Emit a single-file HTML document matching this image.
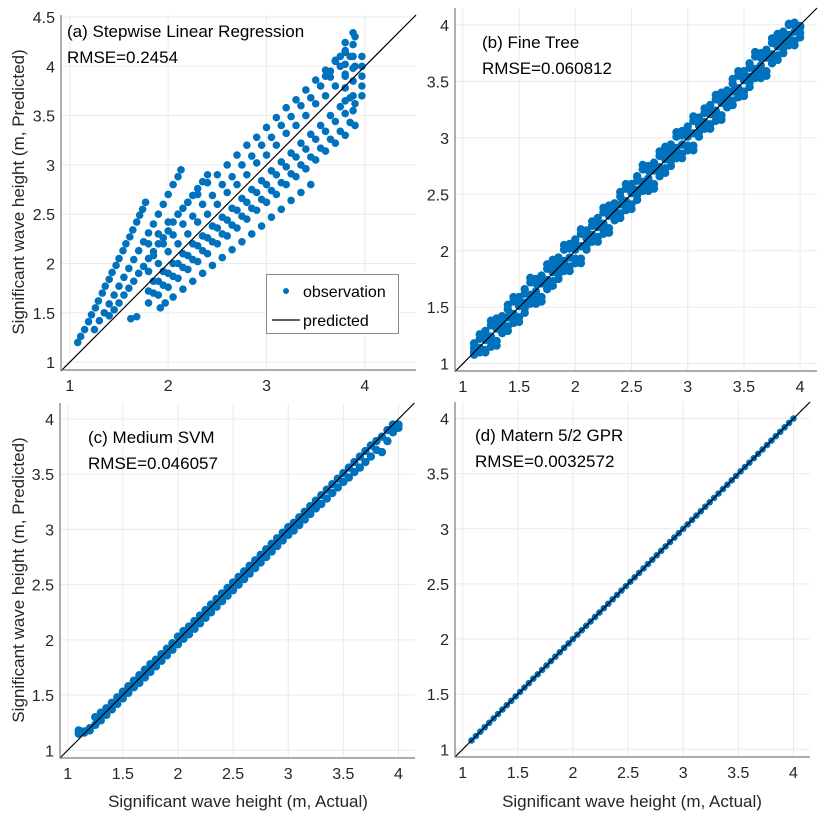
<!DOCTYPE html>
<html><head><meta charset="utf-8"><style>
body{margin:0;background:#fff;}
svg{display:block;font-family:"Liberation Sans",Arial,sans-serif;}
</style></head><body>
<svg id="fig" width="825" height="817" viewBox="0 0 825 817"></svg>
<script>
// ---------- data ----------
const ticksA = [1,2,3,4];
const ticksAy = [1,1.5,2,2.5,3,3.5,4,4.5];
const ticksB = [1,1.5,2,2.5,3,3.5,4];

// Panel (a) stripes / bands (actual, predicted)
const aS1x = [1.08,1.15,1.22,1.29,1.36,1.43,1.5,1.57,1.64,1.71,1.77,1.11,1.19,1.26,1.33,1.4,1.47,1.54,1.61,1.68,1.74];
const aS1y = [1.2,1.33,1.48,1.62,1.77,1.91,2.05,2.2,2.34,2.49,2.62,1.26,1.41,1.55,1.7,1.84,1.98,2.13,2.27,2.42,2.55];
const aS2x = [1.25,1.3,1.35,1.4,1.45,1.5,1.55,1.6,1.65,1.7,1.75,1.8,1.85,1.9,1.95,2.0,2.05,2.1,2.13];
const aS2y = [1.33,1.42,1.5,1.59,1.68,1.77,1.86,1.95,2.04,2.13,2.22,2.31,2.4,2.5,2.6,2.7,2.8,2.88,2.95];
const aS3x = [1.4,1.45,1.5,1.55,1.6,1.65,1.7,1.75,1.8,1.85,1.9,1.95,2.0,2.05,2.1,2.15,2.2,2.25,2.3,2.35,2.4];
const aS3y = [1.47,1.53,1.6,1.68,1.75,1.82,1.9,1.97,2.05,2.12,2.2,2.26,2.33,2.42,2.5,2.56,2.62,2.69,2.76,2.83,2.9];
const aBx = [1.8,1.9,2.0,2.1,2.2,2.3,2.4,2.5,2.6,2.7,2.8,2.9,3.0,3.1,3.2,3.3,3.4,3.5,3.6,3.7,3.8,3.9];
const aUp = [2.2,2.3,2.42,2.5,2.62,2.7,2.82,2.9,3.0,3.1,3.2,3.28,3.38,3.48,3.58,3.66,3.76,3.86,3.96,4.06,4.16,4.3];
const aMu = [1.92,2.0,2.12,2.2,2.3,2.42,2.5,2.6,2.72,2.8,2.9,3.02,3.1,3.2,3.32,3.4,3.5,3.62,3.7,3.8,3.92,4.0];
const aMd = [1.72,1.82,1.9,2.0,2.08,2.18,2.26,2.36,2.44,2.54,2.62,2.72,2.8,2.9,2.98,3.08,3.16,3.26,3.34,3.44,3.52,3.62];
const aMl = [1.6,1.68,1.76,1.85,1.94,2.02,2.1,2.2,2.28,2.36,2.45,2.54,2.62,2.7,2.8,2.88,2.96,3.05,3.14,3.22,3.3,3.4];
const aBx2 = [1.85,1.95,2.05,2.15,2.25,2.35,2.45,2.55,2.65,2.75,2.85,2.95,3.05,3.15,3.25,3.35,3.45,3.55,3.65,3.75,3.85];
const aUM = [2.08,2.2,2.29,2.4,2.48,2.6,2.69,2.8,2.88,3.0,3.09,3.2,3.28,3.4,3.49,3.6,3.68,3.8,3.89,4.0,4.1];
const aMM = [1.82,1.92,2.0,2.1,2.2,2.28,2.38,2.47,2.56,2.66,2.75,2.84,2.94,3.03,3.12,3.22,3.31,3.4,3.5,3.59,3.68];
const aML = [1.7,1.78,1.87,1.96,2.04,2.13,2.22,2.3,2.39,2.48,2.56,2.65,2.74,2.82,2.91,3.0,3.08,3.17,3.26,3.34,3.43];
const aLx = [1.62,1.68,1.92,1.97,2.05,2.15,2.25,2.35,2.45,2.55,2.65,2.75,2.85,2.95,3.05,3.15,3.25,3.35,3.45];
const aLy = [1.44,1.46,1.55,1.6,1.66,1.74,1.82,1.9,1.98,2.06,2.14,2.22,2.3,2.38,2.47,2.55,2.64,2.72,2.8];
const aRx = [3.8,3.8,3.8,3.8,3.8,3.8,3.88,3.88,3.88,3.88,3.88,3.88,3.88,3.97,3.97,3.97,3.97,3.97,3.75,3.7,3.65,3.6,3.55];
const aRy = [3.65,3.78,3.9,4.02,4.14,4.24,3.55,3.7,3.85,3.98,4.1,4.22,4.34,3.7,3.8,3.9,4.0,4.1,4.1,4.05,3.95,3.9,3.8];

// Panel (b) Fine Tree
const bX = [1.10,1.15,1.20,1.25,1.30,1.35,1.40,1.45,1.50,1.55,1.60,1.65,1.70,1.75,1.80,1.85,1.90,1.95,2.00,2.05,2.10,2.15,2.20,2.25,2.30,2.35,2.40,2.45,2.50,2.55,2.60,2.65,2.70,2.75,2.80,2.85,2.90,2.95,3.00,3.05,3.10,3.15,3.20,3.25,3.30,3.35,3.40,3.45,3.50,3.55,3.60,3.65,3.70,3.75,3.80,3.85,3.90,3.95,4.00];
const bHi = [1.18,1.26,1.29,1.38,1.40,1.42,1.52,1.59,1.59,1.66,1.76,1.75,1.78,1.88,1.92,1.94,2.05,2.06,2.10,2.19,2.18,2.26,2.29,2.38,2.40,2.42,2.52,2.59,2.59,2.66,2.76,2.75,2.78,2.88,2.92,2.94,3.05,3.06,3.10,3.19,3.18,3.26,3.29,3.38,3.40,3.42,3.52,3.59,3.59,3.66,3.76,3.75,3.78,3.88,3.92,3.94,4.0,4.0,3.99];
const bUp = [1.14,1.22,1.25,1.34,1.36,1.38,1.48,1.55,1.55,1.62,1.72,1.71,1.74,1.84,1.88,1.90,2.01,2.02,2.06,2.15,2.14,2.22,2.25,2.34,2.36,2.38,2.48,2.55,2.55,2.62,2.72,2.71,2.74,2.84,2.88,2.90,3.01,3.02,3.06,3.15,3.14,3.22,3.25,3.34,3.36,3.38,3.48,3.55,3.55,3.62,3.72,3.71,3.74,3.84,3.88,3.90,4.01,4.02,3.99];
const bMid = [1.11,1.14,1.21,1.24,1.31,1.34,1.41,1.44,1.51,1.54,1.61,1.64,1.71,1.74,1.81,1.84,1.91,1.94,2.01,2.04,2.11,2.14,2.21,2.24,2.31,2.34,2.41,2.44,2.51,2.54,2.61,2.64,2.71,2.74,2.81,2.84,2.91,2.94,3.01,3.04,3.11,3.14,3.21,3.24,3.31,3.34,3.41,3.44,3.51,3.54,3.61,3.64,3.71,3.74,3.81,3.84,3.91,3.94,3.98];
const bLo = [1.10,1.12,1.12,1.19,1.20,1.31,1.33,1.40,1.41,1.49,1.57,1.57,1.59,1.70,1.73,1.79,1.86,1.86,1.93,1.93,2.05,2.12,2.12,2.19,2.20,2.31,2.33,2.40,2.41,2.49,2.57,2.57,2.59,2.70,2.73,2.79,2.86,2.86,2.93,2.93,3.05,3.12,3.12,3.19,3.20,3.31,3.33,3.40,3.41,3.49,3.57,3.57,3.59,3.70,3.73,3.79,3.86,3.86,3.93];
const bLo2 = [1.08,1.10,1.10,1.15,1.16,1.27,1.29,1.36,1.37,1.45,1.53,1.53,1.55,1.66,1.69,1.75,1.82,1.82,1.89,1.89,2.01,2.08,2.08,2.15,2.16,2.27,2.29,2.36,2.37,2.45,2.53,2.53,2.55,2.66,2.69,2.75,2.82,2.82,2.89,2.89,3.01,3.08,3.08,3.15,3.16,3.27,3.29,3.36,3.37,3.45,3.53,3.53,3.55,3.66,3.69,3.75,3.82,3.82,3.89];

// Panel (c) Medium SVM
const cUp = [1.18,1.17,1.20,1.30,1.34,1.38,1.43,1.48,1.53,1.58,1.63,1.68,1.73,1.78,1.82,1.87,1.92,1.97,2.03,2.08,2.12,2.17,2.22,2.27,2.32,2.37,2.42,2.47,2.52,2.57,2.62,2.67,2.72,2.77,2.82,2.87,2.92,2.97,3.02,3.06,3.11,3.16,3.21,3.26,3.31,3.36,3.41,3.46,3.51,3.56,3.61,3.66,3.71,3.76,3.80,3.84,3.90,3.95,3.95];
const cLo = [1.15,1.16,1.18,1.23,1.27,1.32,1.37,1.42,1.47,1.52,1.57,1.61,1.66,1.71,1.76,1.81,1.86,1.91,1.96,2.01,2.05,2.10,2.15,2.20,2.25,2.30,2.35,2.40,2.45,2.50,2.55,2.60,2.65,2.70,2.75,2.80,2.85,2.90,2.95,2.99,3.04,3.09,3.14,3.19,3.23,3.28,3.33,3.38,3.43,3.47,3.52,3.56,3.61,3.66,3.72,3.70,3.80,3.88,3.92];

// Panel (d) Matern GPR
const dX = [1.08,1.12,1.16,1.2,1.24,1.28,1.32,1.36,1.4,1.44,1.48,1.52,1.56,1.6,1.64,1.68,1.72,1.76,1.8,1.84,1.88,1.92,1.96,2.0,2.04,2.08,2.12,2.16,2.2,2.24,2.28,2.32,2.36,2.4,2.44,2.48,2.52,2.56,2.6,2.64,2.68,2.72,2.76,2.8,2.84,2.88,2.92,2.96,3.0,3.04,3.08,3.12,3.16,3.2,3.24,3.28,3.32,3.36,3.4,3.44,3.48,3.52,3.56,3.6,3.64,3.68,3.72,3.76,3.8,3.84,3.88,3.92,3.96,4.0];
const dY = [1.08,1.12,1.16,1.2,1.24,1.28,1.32,1.36,1.4,1.44,1.48,1.52,1.56,1.6,1.64,1.68,1.72,1.76,1.8,1.84,1.88,1.92,1.96,2.0,2.04,2.08,2.12,2.16,2.2,2.24,2.28,2.32,2.36,2.4,2.44,2.48,2.52,2.56,2.6,2.64,2.68,2.72,2.76,2.8,2.84,2.88,2.92,2.96,3.0,3.04,3.08,3.12,3.16,3.2,3.24,3.28,3.32,3.36,3.4,3.44,3.48,3.52,3.56,3.6,3.64,3.68,3.72,3.76,3.8,3.84,3.88,3.92,3.96,4.0];

// ---------- drawing ----------
const NS = "http://www.w3.org/2000/svg";
const svg = document.getElementById('fig');
function mk(tag, attrs, parent){
  const e = document.createElementNS(NS, tag);
  for (const k in attrs) e.setAttribute(k, attrs[k]);
  (parent||svg).appendChild(e);
  return e;
}
function panel(cfg){
  const g = mk('g', {});
  
  
  const sx = v => cfg.L + (v - cfg.x0) / (cfg.x1 - cfg.x0) * (cfg.R - cfg.L);
  const sy = v => cfg.B - (v - cfg.y0) / (cfg.y1 - cfg.y0) * (cfg.B - cfg.T);
  cfg.xt.forEach(t => {
    const l = mk('line', {x1:sx(t), x2:sx(t), y1:cfg.T, y2:cfg.B, stroke:'#ebebeb', 'stroke-width':1}, g);
    
    
    const tx = mk('text', {x:sx(t), y:cfg.B+21, 'text-anchor':'middle', 'font-size':16, fill:'#262626'}, g);
    tx.textContent = t;
    
    
  });
  cfg.yt.forEach(t => {
    const l = mk('line', {x1:cfg.L, x2:cfg.R, y1:sy(t), y2:sy(t), stroke:'#ebebeb', 'stroke-width':1}, g);
    
    
    const tx = mk('text', {x:cfg.L-6, y:sy(t)+6, 'text-anchor':'end', 'font-size':16, fill:'#262626'}, g);
    tx.textContent = t;
    
    
  });
  cfg.series.forEach(s => {
    for (let i = 0; i < s[0].length; i++) {
      const c = mk('circle', {cx:sx(s[0][i]), cy:sy(s[1][i]), r:cfg.r, fill:'#0072BD'}, g);
      
      
    }
  });
  const hi = Math.min(cfg.x1, cfg.y1);
  const d = mk('line', {x1:sx(cfg.x0), y1:sy(cfg.x0), x2:sx(hi), y2:sy(hi), stroke:'#000', 'stroke-width':1.2}, g);
  
  
  const ax = mk('path', {d:`M${cfg.L},${cfg.T} V${cfg.B} H${cfg.R}`, fill:'none', stroke:'#7a7a7a', 'stroke-width':1.2}, g);
  
  
  cfg.titles.forEach((t, i) => {
    const tx = mk('text', {x:cfg.tx, y:cfg.ty + i*26, 'font-size':17, fill:'#000'}, g);
    tx.textContent = t;
    
    
  });
  return g;
}
panel({name:'panel-a-stepwise', L:61, R:416, T:15, B:370, x0:0.91, x1:4.52, y0:0.92, y1:4.52,
  xt:ticksA, yt:ticksAy, r:3.8,
  series:[[aS1x,aS1y],[aS2x,aS2y],[aS3x,aS3y],[aBx,aUp],[aBx,aMu],[aBx,aMd],[aBx,aMl],[aBx2,aUM],[aBx2,aMM],[aBx2,aML],[aLx,aLy],[aRx,aRy]],
  titles:['(a) Stepwise Linear Regression','RMSE=0.2454'], tx:67, ty:37});
panel({name:'panel-b-fine-tree', L:455, R:817, T:8, B:371, x0:0.93, x1:4.15, y0:0.935, y1:4.15,
  xt:ticksB, yt:ticksB, r:4.2,
  series:[[bX,bHi],[bX,bUp],[bX,bMid],[bX,bLo],[bX,bLo2]],
  titles:['(b) Fine Tree','RMSE=0.060812'], tx:482, ty:48});
panel({name:'panel-c-medium-svm', L:60, R:415, T:403, B:758, x0:0.93, x1:4.15, y0:0.93, y1:4.145,
  xt:ticksB, yt:ticksB, r:4.2,
  series:[[bX,cUp],[bX,cLo]],
  titles:['(c) Medium SVM','RMSE=0.046057'], tx:88, ty:443});
panel({name:'panel-d-matern-gpr', L:455, R:810, T:402, B:757, x0:0.93, x1:4.15, y0:0.93, y1:4.15,
  xt:ticksB, yt:ticksB, r:3.3,
  series:[[dX,dY]],
  titles:['(d) Matern 5/2 GPR','RMSE=0.0032572'], tx:475, ty:441});

function label(txt, x, y, rot, name){
  const t = mk('text', {x:x, y:y, 'text-anchor':'middle', 'font-size':17, fill:'#262626'});
  if (rot) t.setAttribute('transform', `rotate(-90 ${x} ${y})`);
  t.textContent = txt;
  
  
}
label('Significant wave height (m, Predicted)', 24, 192, true, 'y-axis-title-top');
label('Significant wave height (m, Predicted)', 24, 580, true, 'y-axis-title-bottom');
label('Significant wave height (m, Actual)', 238, 807, false, 'x-axis-title-left');
label('Significant wave height (m, Actual)', 632, 807, false, 'x-axis-title-right');

const lg = mk('g', {});


const box = mk('rect', {x:266.5, y:274.5, width:132, height:59, fill:'#fff', stroke:'#8a8a8a', 'stroke-width':1}, lg);


const ld = mk('circle', {cx:286, cy:291, r:3, fill:'#0072BD'}, lg);


const lt1 = mk('text', {x:303, y:297, 'font-size':16, fill:'#000'}, lg);
lt1.textContent = 'observation';


const ll = mk('line', {x1:272, x2:300, y1:320, y2:320, stroke:'#000', 'stroke-width':1.2}, lg);


const lt2 = mk('text', {x:303, y:326, 'font-size':16, fill:'#000'}, lg);
lt2.textContent = 'predicted';


</script>
</body></html>
